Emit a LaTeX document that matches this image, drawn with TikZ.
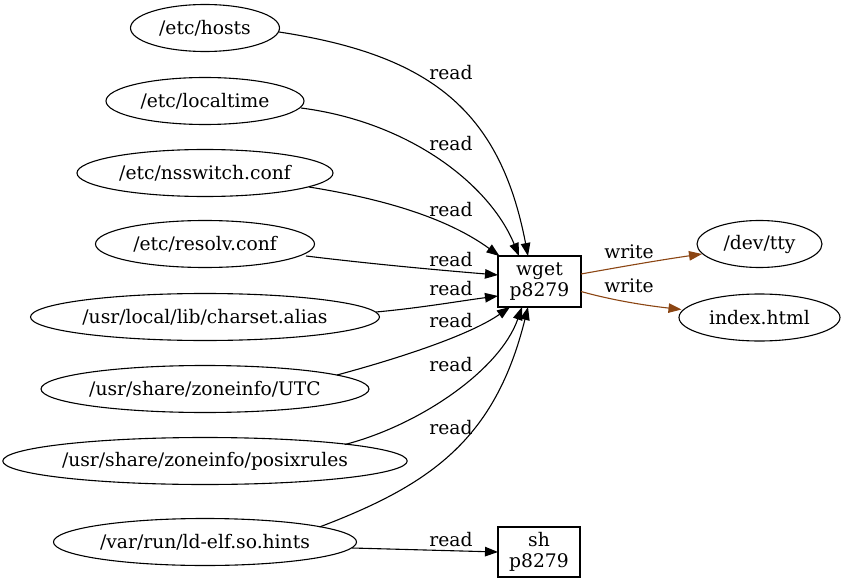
\documentclass[tikz,border=0pt]{standalone}
\usepackage{fontspec}
\setmainfont{DejaVu Serif}
\usetikzlibrary{arrows.meta,shapes.geometric}
\definecolor{wbrown}{HTML}{8B4513}
\tikzset{
  gvfont/.style={font=\fontsize{18.7}{20.5}\selectfont},
  fileell/.style={ellipse,draw,line width=1.1pt,inner sep=0pt,outer sep=0pt,minimum height=47pt,gvfont},
  procbox/.style={rectangle,draw,line width=1.1pt,inner sep=0pt,outer sep=0pt,minimum width=83pt,minimum height=51pt,align=center,gvfont},
  rdedge/.style={line width=1.1pt,-{Triangle[length=13pt,width=9.5pt]}},
  wredge/.style={line width=1.1pt,draw=wbrown,-{Triangle[length=13pt,width=9.5pt,fill=wbrown]}},
  elabel/.style={gvfont,inner sep=0pt}
}
\begin{document}
\begin{tikzpicture}[x=1pt,y=-1pt]
\useasboundingbox (0,0) rectangle (846,583);
% file nodes
\node[fileell,minimum width=149pt] (hosts) at (205,28) {/etc/hosts};
\node[fileell,minimum width=198pt] (localtime) at (205,101) {/etc/localtime};
\node[fileell,minimum width=256pt] (nsswitch) at (205,173) {/etc/nsswitch.conf};
\node[fileell,minimum width=219pt] (resolv) at (205,244) {/etc/resolv.conf};
\node[fileell,minimum width=349pt] (charset) at (205,317) {/usr/local/lib/charset.alias};
\node[fileell,minimum width=328pt] (utc) at (205,389) {/usr/share/zoneinfo/UTC};
\node[fileell,minimum width=402pt] (posix) at (205,461) {/usr/share/zoneinfo/posixrules};
\node[fileell,minimum width=303pt] (ldelf) at (205,542) {/var/run/ld-elf.so.hints};
\node[fileell,minimum width=125pt] (tty) at (759.5,244) {/dev/tty};
\node[fileell,minimum width=161pt] (index) at (759.5,317.5) {index.html};
% process nodes
\node[procbox] (wget) at (539.5,281.5) {wget\\p8279};
\node[procbox,minimum width=82pt,minimum height=50pt] (sh) at (539,552) {sh\\p8279};
% read edges
\draw[rdedge] ([shift={(74,4)}]hosts.center) .. controls (430,55) and (500,110) .. ([shift={(-11.5,0)}]wget.north);
\draw[rdedge] ([shift={(96,7)}]localtime.center) .. controls (410,122) and (490,185) .. ([shift={(-20.5,0)}]wget.north);
\draw[rdedge] ([shift={(104,14)}]nsswitch.center) .. controls (390,200) and (450,220) .. ([shift={(-40,0)}]wget.north);
\draw[rdedge] ([shift={(101,12)}]resolv.center) .. controls (380,265) and (450,271) .. ([shift={(0,-6.5)}]wget.west);
\draw[rdedge] ([shift={(171,-5)}]charset.center) .. controls (420,308) and (460,301) .. ([shift={(0,14.5)}]wget.west);
\draw[rdedge] ([shift={(132,-14)}]utc.center) .. controls (400,358) and (470,335) .. ([shift={(-29.5,0)}]wget.south);
\draw[rdedge] ([shift={(140,-16.5)}]posix.center) .. controls (420,425) and (500,370) .. ([shift={(-17.5,0)}]wget.south);
\draw[rdedge] ([shift={(114.5,-15)}]ldelf.center) .. controls (430,485) and (495,440) .. ([shift={(-11.5,0)}]wget.south);
\draw[rdedge] ([shift={(147,6)}]ldelf.center) -- (sh.west);
% write edges
\draw[wredge] ([shift={(0,-7.5)}]wget.east) .. controls (620,267) and (660,260) .. ([shift={(-57.5,10)}]tty.center);
\draw[wredge] ([shift={(0,10)}]wget.east) .. controls (615,301) and (650,306) .. ([shift={(-78,-8)}]index.center);
% labels
\node[elabel] (l1) at (451,73) {read};
\node[elabel] (l2) at (451,144) {read};
\node[elabel] (l3) at (451,210) {read};
\node[elabel] (l4) at (451,260) {read};
\node[elabel] (l5) at (451,289) {read};
\node[elabel] (l6) at (451,321) {read};
\node[elabel] (l7) at (451,365) {read};
\node[elabel] (l8) at (451,428) {read};
\node[elabel] (l9) at (451,540) {read};
\node[elabel] (w1) at (629,252) {write};
\node[elabel] (w2) at (629,286) {write};
\end{tikzpicture}
\end{document}
